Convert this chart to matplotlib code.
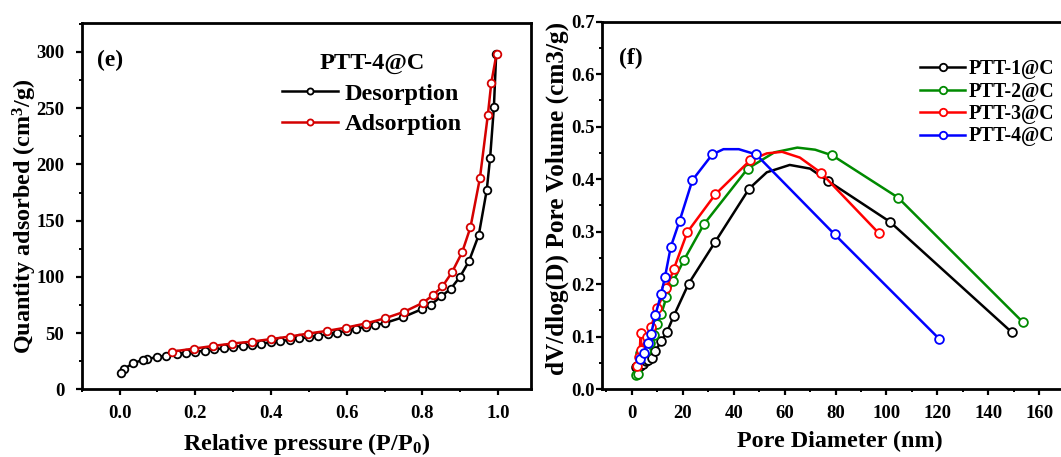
import numpy as np
import matplotlib
matplotlib.use("Agg")
import matplotlib.pyplot as plt
from matplotlib.ticker import MultipleLocator

# ---------------- data: panel (e) N2 isotherm of PTT-4@C ----------------
des_p = [0.995, 0.989, 0.979, 0.970, 0.949, 0.923, 0.899, 0.875, 0.850, 0.822,
         0.799, 0.748, 0.700, 0.675, 0.650, 0.625, 0.600, 0.575, 0.550, 0.525,
         0.500, 0.475, 0.450, 0.425, 0.400, 0.375, 0.350, 0.325, 0.300, 0.275,
         0.250, 0.225, 0.200, 0.175, 0.152, 0.123, 0.098, 0.073, 0.062, 0.036,
         0.012, 0.004]
des_v = [298.0, 251.0, 205.8, 177.0, 137.2, 113.8, 99.8, 89.4, 82.6, 75.1,
         71.3, 64.0, 58.8, 57.0, 55.5, 54.0, 52.0, 50.5, 49.0, 47.6,
         46.3, 45.2, 44.0, 42.9, 41.8, 40.7, 39.6, 38.6, 37.6, 36.5,
         35.4, 34.4, 33.3, 32.2, 31.6, 30.0, 28.5, 27.0, 26.0, 23.4,
         18.0, 14.5]
ads_p = [0.138, 0.197, 0.248, 0.298, 0.349, 0.399, 0.449, 0.499, 0.549, 0.599,
         0.650, 0.700, 0.751, 0.802, 0.827, 0.853, 0.878, 0.905, 0.927, 0.952,
         0.973, 0.982, 0.996]
ads_v = [33.5, 36.2, 38.6, 40.7, 42.4, 44.6, 46.9, 49.6, 52.0, 54.9,
         58.5, 63.0, 68.8, 77.0, 83.5, 91.5, 103.9, 121.8, 144.0, 187.7,
         244.0, 272.3, 298.5]

# ---------------- data: panel (f) pore size distribution ----------------
series_names = ["PTT-1@C", "PTT-2@C", "PTT-3@C", "PTT-4@C"]

ptt1_x = [1.5, 2.0, 2.6, 3.3, 4.3, 5.5, 6.2, 7.8, 9.2, 11.6, 13.8, 16.5, 22.3,
          32.8, 46.1, 77.2, 101.3, 149.1]
ptt1_y = [0.042, 0.044, 0.043, 0.045, 0.049, 0.053, 0.055, 0.060, 0.072, 0.092,
          0.109, 0.140, 0.201, 0.281, 0.382, 0.396, 0.319, 0.109]
ptt1_apex_x = [53.0, 62.0, 70.0]
ptt1_apex_y = [0.413, 0.427, 0.420]

ptt2_x = [1.5, 2.5, 3.4, 5.5, 7.2, 8.7, 10.0, 11.6, 13.6, 16.3, 20.6, 28.3,
          45.5, 78.8, 104.5, 153.5]
ptt2_y = [0.027, 0.030, 0.069, 0.072, 0.088, 0.104, 0.124, 0.144, 0.175, 0.206,
          0.247, 0.314, 0.420, 0.445, 0.365, 0.128]
ptt2_apex_x = [56.0, 65.0, 72.0]
ptt2_apex_y = [0.451, 0.460, 0.456]

ptt3_x = [2.2, 3.0, 3.5, 3.8, 5.8, 7.5, 10.0, 13.6, 16.5, 21.8, 32.8, 46.5,
          74.3, 97.0]
ptt3_y = [0.045, 0.062, 0.108, 0.075, 0.100, 0.118, 0.155, 0.192, 0.229, 0.299,
          0.371, 0.436, 0.412, 0.297]
ptt3_apex_x = [53.0, 59.0, 66.0]
ptt3_apex_y = [0.449, 0.452, 0.441]

ptt4_x = [3.2, 4.6, 6.2, 7.6, 9.3, 11.5, 13.0, 15.3, 18.8, 23.8, 31.6, 48.8,
          79.6, 120.7]
ptt4_y = [0.058, 0.070, 0.088, 0.106, 0.142, 0.181, 0.213, 0.271, 0.321, 0.398,
          0.447, 0.447, 0.295, 0.096]
ptt4_apex_x = [36.0, 42.0]
ptt4_apex_y = [0.457, 0.457]

# ---------------- style ----------------
plt.rcParams["font.family"] = ["Liberation Serif", "DejaVu Serif"]
plt.rcParams["font.weight"] = "bold"
plt.rcParams["axes.labelweight"] = "bold"
plt.rcParams["mathtext.fontset"] = "custom"
plt.rcParams["mathtext.rm"] = "Liberation Serif:bold"
plt.rcParams["mathtext.it"] = "Liberation Serif:bold:italic"
plt.rcParams["mathtext.bf"] = "Liberation Serif:bold"

W, H = 1061, 457
fig = plt.figure(figsize=(W / 100, H / 100), dpi=100)


def box(l, r, t, b):
    return [l / W, 1 - b / H, (r - l) / W, (b - t) / H]


ax1 = fig.add_axes(box(81.7, 531.0, 22.7, 389.3))
ax2 = fig.add_axes(box(602.0, 1077.5, 21.5, 389.3))

tick_fs = 13.5

for ax in (ax1, ax2):
    for s in ax.spines.values():
        s.set_linewidth(2.0)
    ax.tick_params(which="major", direction="out", length=4.5, width=1.6,
                   labelsize=tick_fs)
    ax.tick_params(which="minor", direction="out", length=2.5, width=1.4)
    ax.tick_params(axis="x", which="major", pad=7)

# ---- panel (e) ----
mk = dict(marker="o", markersize=5.5, markerfacecolor="white",
          markeredgewidth=1.3)
ax1.plot(des_p, des_v, color="black", lw=1.8, markeredgecolor="black",
         label="Desorption", **mk)
ax1.plot(ads_p, ads_v, color="#d40000", lw=1.8, markeredgecolor="#d40000",
         label="Adsorption", **mk)
ax1.set_xlim(-0.1, 1.087)
ax1.set_ylim(0, 326)
ax1.xaxis.set_major_locator(MultipleLocator(0.2))
ax1.xaxis.set_minor_locator(MultipleLocator(0.1))
ax1.yaxis.set_major_locator(MultipleLocator(50))
ax1.yaxis.set_minor_locator(MultipleLocator(25))
ax1.xaxis.set_major_formatter(matplotlib.ticker.FormatStrFormatter("%.1f"))
ax1.tick_params(axis="y", which="major", pad=8)
ax1.set_xlabel(r"Relative pressure (P/P$_0$)", fontsize=17.4, labelpad=6)
ax1.set_ylabel(r"Quantity adsorbed (cm$^3$/g)", fontsize=17.4, labelpad=-2,
               y=0.472)
ax1.text(0.035, 0.897, "(e)", transform=ax1.transAxes, fontsize=17,
         fontweight="bold", va="center", ha="left")
ax1.legend(loc="upper center", bbox_to_anchor=(0.646, 0.918),
           frameon=False, fontsize=17.5, title="PTT-4@C",
           title_fontproperties={"size": 17.5, "weight": "bold"},
           handlelength=2.3, handletextpad=0.25, labelspacing=0.36,
           borderpad=0, borderaxespad=0, numpoints=1, markerscale=0.8)

# ---- panel (f) ----
colors = ["black", "#008a00", "#ff0000", "#0000ff"]
all_series = [
    (ptt1_x, ptt1_y, ptt1_apex_x, ptt1_apex_y),
    (ptt2_x, ptt2_y, ptt2_apex_x, ptt2_apex_y),
    (ptt3_x, ptt3_y, ptt3_apex_x, ptt3_apex_y),
    (ptt4_x, ptt4_y, ptt4_apex_x, ptt4_apex_y),
]
for (mx, my, apx, apy), name, c in zip(all_series, series_names, colors):
    xs = np.concatenate([mx, apx])
    ys = np.concatenate([my, apy])
    is_mark = np.concatenate([np.ones(len(mx), bool), np.zeros(len(apx), bool)])
    order = np.argsort(xs, kind="stable")
    ax2.plot(xs[order], ys[order], color=c, lw=1.8, marker="o", markersize=6.3,
             markerfacecolor="white", markeredgecolor=c, markeredgewidth=1.3,
             markevery=list(np.flatnonzero(is_mark[order])), label=name)
ax2.set_xlim(-11.7, 175)
ax2.set_ylim(0, 0.7)
ax2.xaxis.set_major_locator(MultipleLocator(20))
ax2.xaxis.set_minor_locator(MultipleLocator(10))
ax2.yaxis.set_major_locator(MultipleLocator(0.1))
ax2.yaxis.set_minor_locator(MultipleLocator(0.05))
ax2.yaxis.set_major_formatter(matplotlib.ticker.FormatStrFormatter("%.1f"))
ax2.tick_params(axis="y", which="major", pad=0.5)
ax2.set_xlabel("Pore Diameter (nm)", fontsize=17.4, labelpad=6)
ax2.set_ylabel("dV/dlog(D) Pore Volume (cm3/g)", fontsize=18.2, labelpad=2,
               y=0.519)
ax2.text(0.036, 0.9, "(f)", transform=ax2.transAxes, fontsize=17,
         fontweight="bold", va="center", ha="left")
ax2.legend(loc="upper left", bbox_to_anchor=(0.669, 0.897), frameon=False,
           fontsize=14.2, handlelength=2.3, handletextpad=0.15,
           labelspacing=0.12, borderpad=0, borderaxespad=0, numpoints=1,
           markerscale=0.85)

fig.savefig("out.png", dpi=100)
